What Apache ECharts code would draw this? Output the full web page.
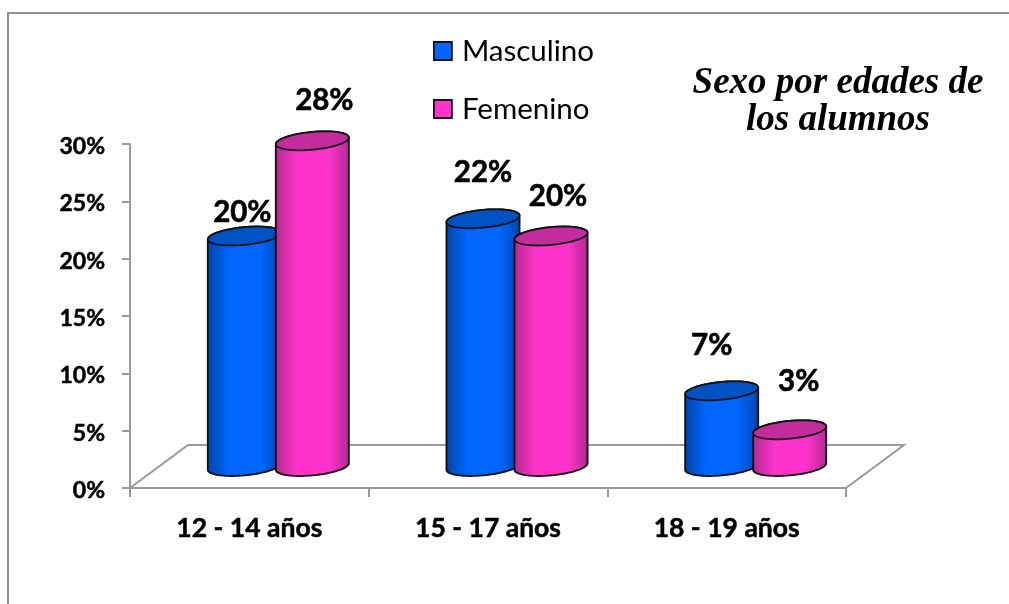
<!DOCTYPE html>
<html>
<head>
<meta charset="utf-8">
<title>Sexo por edades de los alumnos</title>
<script src="https://cdn.jsdelivr.net/npm/echarts@6/dist/echarts.min.js"></script>
<style>
  html, body { margin: 0; padding: 0; background: #fff; }
  #chart { width: 1009px; height: 604px; }
</style>
</head>
<body>
<div id="chart"></div>
<script>
const categories = ['12 - 14 años', '15 - 17 años', '18 - 19 años'];
const masculino = [20.1, 21.6, 6.6];
const femenino = [28.4, 20.1, 3.2];
const yTicks = [0, 5, 10, 15, 20, 25, 30];

// nudges of the value labels from the top of each cylinder [dx, dy]
const labelNudgeM = [[-2, -24], [0, -46], [-10, -45]];
const labelNudgeF = [[12, -40], [7, -40], [9, -48]];

const FONT = 'Lato, "Open Sans", sans-serif';
const GRAY = '#9a9a9a';
// floor depth of the fake 3d box, bars stand half way into it
const DEPTH_X = 58, DEPTH_Y = 43;
const RX = 36.5, RY = 8.9, SKEW = 0.09;

// sheared ellipse, so the side walls touch it exactly at both ends
function ellipsePoint(cx, cy, t) {
  return [
    cx + RX * Math.cos(t),
    cy + RY * Math.sin(t) - SKEW * RX * Math.cos(t)
  ];
}

function cylinderItem(side, sideDark, topColor, nudges) {
  return function (params, api) {
    const cat = api.value(0);
    const val = api.value(1);
    const top = api.coord([cat, val]);
    const base = api.coord([cat, 0]);
    const cx = top[0] + DEPTH_X / 2 + side * 34;
    const topY = top[1] - DEPTH_Y / 2;
    const baseY = base[1] - DEPTH_Y / 2;

    const topPts = [];
    const n = 80;
    for (let i = 0; i <= n; i++) {
      topPts.push(ellipsePoint(cx, topY, 2 * Math.PI * i / n));
    }
    // walk the bottom front edge from left to right, then close over the top
    const body = [];
    for (let i = 0; i <= 40; i++) {
      body.push(ellipsePoint(cx, baseY, Math.PI - Math.PI * i / 40));
    }
    for (let i = 0; i <= 40; i++) {
      body.push(ellipsePoint(cx, topY, -Math.PI * i / 40));
    }

    const nudge = nudges[params.dataIndex];
    return {
      type: 'group',
      children: [
        {
          type: 'polygon',
          shape: { points: body },
          style: {
            fill: {
              type: 'linear', x: 0, y: 0, x2: 1, y2: 0,
              colorStops: [
                { offset: 0, color: sideDark },
                { offset: 0.3, color: api.visual('color') },
                { offset: 0.72, color: api.visual('color') },
                { offset: 1, color: sideDark }
              ]
            },
            stroke: '#111',
            lineWidth: 1.9
          }
        },
        {
          type: 'polygon',
          shape: { points: topPts },
          style: { fill: topColor, stroke: '#111', lineWidth: 1.8 }
        },
        {
          type: 'text',
          z2: 50,
          style: {
            x: cx + nudge[0],
            y: topY + nudge[1],
            text: Math.round(val) + '%',
            align: 'center',
            verticalAlign: 'middle',
            fill: '#000',
            stroke: '#000',
            lineWidth: 0.6,
            font: 'bold 29.5px ' + FONT
          }
        }
      ]
    };
  };
}

function floorItem(params, api) {
  const box = params.coordSys;
  const left = box.x, right = box.x + box.width, bottom = box.y + box.height;
  return {
    type: 'polyline',
    shape: {
      points: [
        [left, bottom],
        [left + DEPTH_X, bottom - DEPTH_Y],
        [right + DEPTH_X, bottom - DEPTH_Y],
        [right, bottom]
      ]
    },
    style: { fill: null, stroke: GRAY, lineWidth: 2 }
  };
}

const chart = echarts.init(document.getElementById('chart'), null, { renderer: 'canvas' });

const option = {
  backgroundColor: '#fff',
  animation: false,
  title: {
    text: 'Sexo por edades de\nlos alumnos',
    left: 833,
    top: 60,
    textAlign: 'center',
    textStyle: {
      fontFamily: '"Liberation Serif", serif',
      fontStyle: 'italic',
      fontWeight: 'bold',
      fontSize: 37,
      lineHeight: 37,
      color: '#000'
    }
  },
  legend: {
    orient: 'vertical',
    left: 428,
    top: 31,
    itemWidth: 18,
    itemHeight: 18,
    itemGap: 28,
    textStyle: { fontFamily: FONT, fontSize: 29.5, color: '#000', padding: [0, 0, 0, 5] },
    data: [
      { name: 'Masculino', icon: 'rect', itemStyle: { color: '#0066ff', borderColor: '#111', borderWidth: 1.8 } },
      { name: 'Femenino', icon: 'rect', itemStyle: { color: '#ff33cc', borderColor: '#111', borderWidth: 1.8 } }
    ]
  },
  graphic: [
    {
      type: 'polyline',
      shape: { points: [[8, 604], [8, 13], [1009, 13]] },
      style: { fill: null, stroke: '#8f8f8f', lineWidth: 2 }
    }
  ],
  grid: { left: 130, top: 144, width: 716, height: 344 },
  xAxis: {
    type: 'category',
    data: categories,
    axisLine: { lineStyle: { color: GRAY, width: 2 } },
    axisTick: { show: true, length: 9, alignWithLabel: false, lineStyle: { color: GRAY, width: 2 } },
    axisLabel: {
      margin: 27,
      color: '#000',
      fontFamily: FONT,
      fontWeight: 'bold',
      fontSize: 26.5,
      textBorderColor: '#000',
      textBorderWidth: 0.5
    }
  },
  yAxis: {
    type: 'value',
    min: 0,
    max: 30,
    interval: 5,
    axisLine: { show: true, lineStyle: { color: GRAY, width: 2 } },
    axisTick: { show: true, length: 8, lineStyle: { color: GRAY, width: 2 } },
    splitLine: { show: false },
    axisLabel: {
      margin: 25,
      formatter: function (v) { return yTicks.indexOf(v) >= 0 ? '{t|' + v + '%}' : ''; },
      rich: {
        t: {
          padding: [5, 0, 0, 0],
          color: '#000',
          fontFamily: FONT,
          fontWeight: 'bold',
          fontSize: 23,
          textBorderColor: '#000',
          textBorderWidth: 0.5
        }
      }
    }
  },
  series: [
    {
      type: 'custom',
      silent: true,
      renderItem: floorItem,
      data: [[0, 0]],
      z: 1
    },
    {
      name: 'Masculino',
      type: 'custom',
      itemStyle: { color: '#0066ff' },
      renderItem: cylinderItem(-1, '#0044a8', '#0052c4', labelNudgeM),
      encode: { x: 0, y: 1 },
      data: masculino.map(function (v, i) { return [i, v]; }),
      z: 2
    },
    {
      name: 'Femenino',
      type: 'custom',
      itemStyle: { color: '#ff33cc' },
      renderItem: cylinderItem(1, '#b02a90', '#c42b9c', labelNudgeF),
      encode: { x: 0, y: 1 },
      data: femenino.map(function (v, i) { return [i, v]; }),
      z: 3
    }
  ]
};

chart.setOption(option);
</script>
</body>
</html>
